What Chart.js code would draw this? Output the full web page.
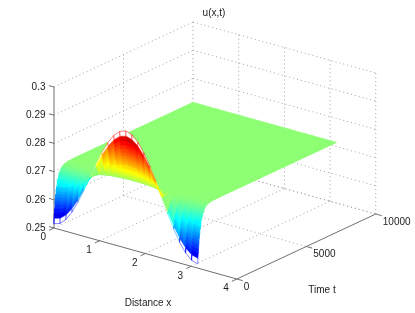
<!DOCTYPE html>
<html>
<head>
<meta charset="utf-8">
<style>
  html, body { margin: 0; padding: 0; background: #fff; }
  canvas { display: block; }
</style>
<script src="https://cdn.jsdelivr.net/npm/chart.js@4/dist/chart.umd.min.js"></script>
</head>
<body>
<canvas id="surf" width="415" height="313"></canvas>
<script>
var xTicks = [0, 1, 2, 3, 4];
var tTicks = [0, 5000, 10000];
var zTicks = [0.25, 0.26, 0.27, 0.28, 0.29, 0.3];
var zTickLabels = ['0.25', '0.26', '0.27', '0.28', '0.29', '0.3'];

var xValues = [0, 0.1309, 0.2618, 0.3927, 0.5236, 0.6545, 0.7854, 0.9163, 1.0472, 1.1781, 1.3090, 1.4399, 1.5708,
  1.7017, 1.8326, 1.9635, 2.0944, 2.2253, 2.3562, 2.4871, 2.6180, 2.7489, 2.8798, 3.0107, 3.1416];
var tValues = [0, 20, 40, 60, 80, 100, 120, 140, 160, 180, 200, 240, 280, 320, 360, 400, 460, 520, 600, 700, 800, 1000, 1500, 10000];

// one row per entry of tValues, one column per entry of xValues
var uRows = [
  [.2515,.2522,.2542,.2574,.2615,.2663,.2715,.2767,.2815,.2856,.2888,.2908,.2915,.2908,.2888,.2856,.2815,.2767,.2715,.2663,.2615,.2574,.2542,.2522,.2515],
  [.2534,.2540,.2558,.2587,.2624,.2668,.2715,.2762,.2806,.2843,.2872,.2890,.2896,.2890,.2872,.2843,.2806,.2762,.2715,.2668,.2624,.2587,.2558,.2540,.2534],
  [.2551,.2557,.2573,.2599,.2633,.2673,.2715,.2757,.2797,.2831,.2857,.2873,.2879,.2873,.2857,.2831,.2797,.2757,.2715,.2673,.2633,.2599,.2573,.2557,.2551],
  [.2567,.2572,.2587,.2610,.2641,.2677,.2715,.2753,.2789,.2820,.2843,.2858,.2863,.2858,.2843,.2820,.2789,.2753,.2715,.2677,.2641,.2610,.2587,.2572,.2567],
  [.2581,.2586,.2599,.2620,.2648,.2680,.2715,.2750,.2782,.2810,.2831,.2844,.2849,.2844,.2831,.2810,.2782,.2750,.2715,.2680,.2648,.2620,.2599,.2586,.2581],
  [.2594,.2598,.2610,.2629,.2654,.2684,.2715,.2746,.2776,.2801,.2820,.2832,.2836,.2832,.2820,.2801,.2776,.2746,.2715,.2684,.2654,.2629,.2610,.2598,.2594],
  [.2605,.2609,.2620,.2637,.2660,.2687,.2715,.2743,.2770,.2793,.2810,.2821,.2825,.2821,.2810,.2793,.2770,.2743,.2715,.2687,.2660,.2637,.2620,.2609,.2605],
  [.2616,.2619,.2629,.2645,.2665,.2689,.2715,.2741,.2765,.2785,.2801,.2811,.2814,.2811,.2801,.2785,.2765,.2741,.2715,.2689,.2665,.2645,.2629,.2619,.2616],
  [.2625,.2628,.2637,.2651,.2670,.2692,.2715,.2738,.2760,.2779,.2793,.2802,.2805,.2802,.2793,.2779,.2760,.2738,.2715,.2692,.2670,.2651,.2637,.2628,.2625],
  [.2634,.2637,.2645,.2658,.2674,.2694,.2715,.2736,.2756,.2772,.2785,.2793,.2796,.2793,.2785,.2772,.2756,.2736,.2715,.2694,.2674,.2658,.2645,.2637,.2634],
  [.2641,.2644,.2651,.2663,.2678,.2696,.2715,.2734,.2752,.2767,.2779,.2786,.2789,.2786,.2779,.2767,.2752,.2734,.2715,.2696,.2678,.2663,.2651,.2644,.2641],
  [.2655,.2657,.2663,.2673,.2685,.2699,.2715,.2731,.2745,.2757,.2767,.2773,.2775,.2773,.2767,.2757,.2745,.2731,.2715,.2699,.2685,.2673,.2663,.2657,.2655],
  [.2666,.2668,.2673,.2680,.2690,.2702,.2715,.2728,.2740,.2750,.2757,.2762,.2764,.2762,.2757,.2750,.2740,.2728,.2715,.2702,.2690,.2680,.2673,.2668,.2666],
  [.2675,.2676,.2680,.2687,.2695,.2705,.2715,.2725,.2735,.2743,.2750,.2754,.2755,.2754,.2750,.2743,.2735,.2725,.2715,.2705,.2695,.2687,.2680,.2676,.2675],
  [.2682,.2683,.2686,.2692,.2698,.2706,.2715,.2724,.2732,.2738,.2744,.2747,.2748,.2747,.2744,.2738,.2732,.2724,.2715,.2706,.2698,.2692,.2686,.2683,.2682],
  [.2688,.2689,.2692,.2696,.2701,.2708,.2715,.2722,.2729,.2734,.2738,.2741,.2742,.2741,.2738,.2734,.2729,.2722,.2715,.2708,.2701,.2696,.2692,.2689,.2688],
  [.2695,.2696,.2698,.2701,.2705,.2710,.2715,.2720,.2725,.2729,.2732,.2734,.2735,.2734,.2732,.2729,.2725,.2720,.2715,.2710,.2705,.2701,.2698,.2696,.2695],
  [.2700,.2701,.2702,.2704,.2707,.2711,.2715,.2719,.2723,.2726,.2728,.2729,.2730,.2729,.2728,.2726,.2723,.2719,.2715,.2711,.2707,.2704,.2702,.2701,.2700],
  [.2705,.2705,.2706,.2708,.2710,.2712,.2715,.2718,.2720,.2722,.2724,.2725,.2725,.2725,.2724,.2722,.2720,.2718,.2715,.2712,.2710,.2708,.2706,.2705,.2705],
  [.2709,.2709,.2710,.2711,.2712,.2713,.2715,.2717,.2718,.2719,.2720,.2721,.2721,.2721,.2720,.2719,.2718,.2717,.2715,.2713,.2712,.2711,.2710,.2709,.2709],
  [.2711,.2711,.2712,.2712,.2713,.2714,.2715,.2716,.2717,.2718,.2718,.2719,.2719,.2719,.2718,.2718,.2717,.2716,.2715,.2714,.2713,.2712,.2712,.2711,.2711],
  [.2714,.2714,.2714,.2714,.2715,.2715,.2715,.2715,.2715,.2716,.2716,.2716,.2716,.2716,.2716,.2716,.2715,.2715,.2715,.2715,.2715,.2714,.2714,.2714,.2714],
  [.2715,.2715,.2715,.2715,.2715,.2715,.2715,.2715,.2715,.2715,.2715,.2715,.2715,.2715,.2715,.2715,.2715,.2715,.2715,.2715,.2715,.2715,.2715,.2715,.2715],
  [.2715,.2715,.2715,.2715,.2715,.2715,.2715,.2715,.2715,.2715,.2715,.2715,.2715,.2715,.2715,.2715,.2715,.2715,.2715,.2715,.2715,.2715,.2715,.2715,.2715]
];

// the 3d view, worked out from the axis corners of the picture
function project(x, t, z) {
  return {
    x: 54 + x * 45.7 + t / 10000 * 139,
    y: 228 + x * 12.75 - t / 10000 * 65 - (z - 0.25) / 0.05 * 141
  };
}

function jet(v) {
  function c(a) { return Math.round(255 * Math.max(0, Math.min(1, a))); }
  return 'rgb(' + c(Math.min(4 * v - 1.5, -4 * v + 4.5)) + ',' +
    c(Math.min(4 * v - 0.5, -4 * v + 3.5)) + ',' +
    c(Math.min(4 * v + 0.5, -4 * v + 2.5)) + ')';
}

function colorFor(u) {
  return jet((u - 0.251) / 0.04);
}

// mesh lines are thin, so keep them off the dark ends of the map
function meshColorFor(u) {
  return jet(Math.max(0.13, Math.min(0.87, (u - 0.251) / 0.04)));
}

function lineSet(a, b, color, dash) {
  return {
    data: [a, b],
    showLine: true,
    pointRadius: 0,
    borderColor: color,
    borderWidth: 1,
    borderDash: dash || [],
    fill: false,
    clip: false
  };
}

var grid = '#a0a0a0';
var dots = [1, 3];
var axis = '#707070';
var layers = [];

// back walls and floor
zTicks.forEach(function(z) {
  layers.push(lineSet(project(0, 0, z), project(0, 10000, z), grid, dots));
  layers.push(lineSet(project(0, 10000, z), project(4, 10000, z), grid, dots));
});
tTicks.slice(1).forEach(function(t) {
  layers.push(lineSet(project(0, t, 0.25), project(0, t, 0.3), grid, dots));
  layers.push(lineSet(project(0, t, 0.25), project(4, t, 0.25), grid, dots));
});
xTicks.slice(1).forEach(function(x) {
  layers.push(lineSet(project(x, 10000, 0.25), project(x, 10000, 0.3), grid, dots));
  if (x < 4) layers.push(lineSet(project(x, 0, 0.25), project(x, 10000, 0.25), grid, dots));
});

// axes
layers.push(lineSet(project(0, 0, 0.25), project(0, 0, 0.3), axis));
layers.push(lineSet(project(0, 0, 0.25), project(4, 0, 0.25), axis));
layers.push(lineSet(project(4, 0, 0.25), project(4, 10000, 0.25), axis));
zTicks.forEach(function(z) {
  layers.push(lineSet(project(0, 0, z), project(-0.11, 0, z), axis));
});
xTicks.forEach(function(x) {
  layers.push(lineSet(project(x, 0, 0.25), project(x, -350, 0.25), axis));
});
tTicks.forEach(function(t) {
  layers.push(lineSet(project(4, t, 0.25), project(4.13, t, 0.25), axis));
});

// surface, far rows first and low x first so nearer cells paint over
for (var j = tValues.length - 2; j >= 0; j--) {
  for (var i = 0; i < xValues.length - 1; i++) {
    var u = uRows[j], w = uRows[j + 1];
    var a = project(xValues[i], tValues[j], u[i]);
    var b = project(xValues[i + 1], tValues[j], u[i + 1]);
    var c = project(xValues[i + 1], tValues[j + 1], w[i + 1]);
    var d = project(xValues[i], tValues[j + 1], w[i]);
    var col = colorFor(w[i]);
    // first row stays open like the mesh in the picture
    layers.push({
      data: [a, b, c, d, a],
      showLine: true,
      pointRadius: 0,
      borderColor: j == 0 ? meshColorFor(u[i]) : col,
      borderWidth: j == 0 ? 0.5 : 0.7,
      backgroundColor: j == 0 ? '#ffffff' : col,
      fill: 'shape',
      clip: false
    });
  }
}

var textPlugin = {
  id: 'labels',
  afterDraw: function(chart) {
    var ctx = chart.ctx;
    ctx.save();
    ctx.font = '10px "Liberation Sans", Arial, sans-serif';
    ctx.fillStyle = '#1c1c1c';
    ctx.textBaseline = 'middle';

    ctx.textAlign = 'right';
    zTicks.forEach(function(z, n) {
      ctx.fillText(zTickLabels[n], 45.5, project(0, 0, z).y);
    });

    ctx.textAlign = 'center';
    xTicks.forEach(function(x) {
      var p = project(x, 0, 0.25);
      ctx.fillText(String(x), p.x - 10.7, p.y + 9.5);
    });

    ctx.textAlign = 'left';
    tTicks.forEach(function(t) {
      var p = project(4, t, 0.25);
      ctx.fillText(String(t), p.x + 7, p.y + 8);
    });

    ctx.textAlign = 'center';
    ctx.fillText('u(x,t)', 214, 13);
    ctx.fillText('Distance x', 148, 303);
    ctx.fillText('Time t', 322, 290);
    ctx.restore();
  }
};

new Chart(document.getElementById('surf').getContext('2d'), {
  type: 'scatter',
  data: { datasets: layers.reverse() },
  options: {
    responsive: false,
    animation: false,
    layout: { padding: 0 },
    elements: { line: { tension: 0 } },
    plugins: { legend: { display: false }, tooltip: { enabled: false } },
    scales: {
      x: { type: 'linear', min: 0, max: 415, display: false },
      y: { type: 'linear', min: 0, max: 313, reverse: true, display: false }
    }
  },
  plugins: [textPlugin]
});
</script>
</body>
</html>
